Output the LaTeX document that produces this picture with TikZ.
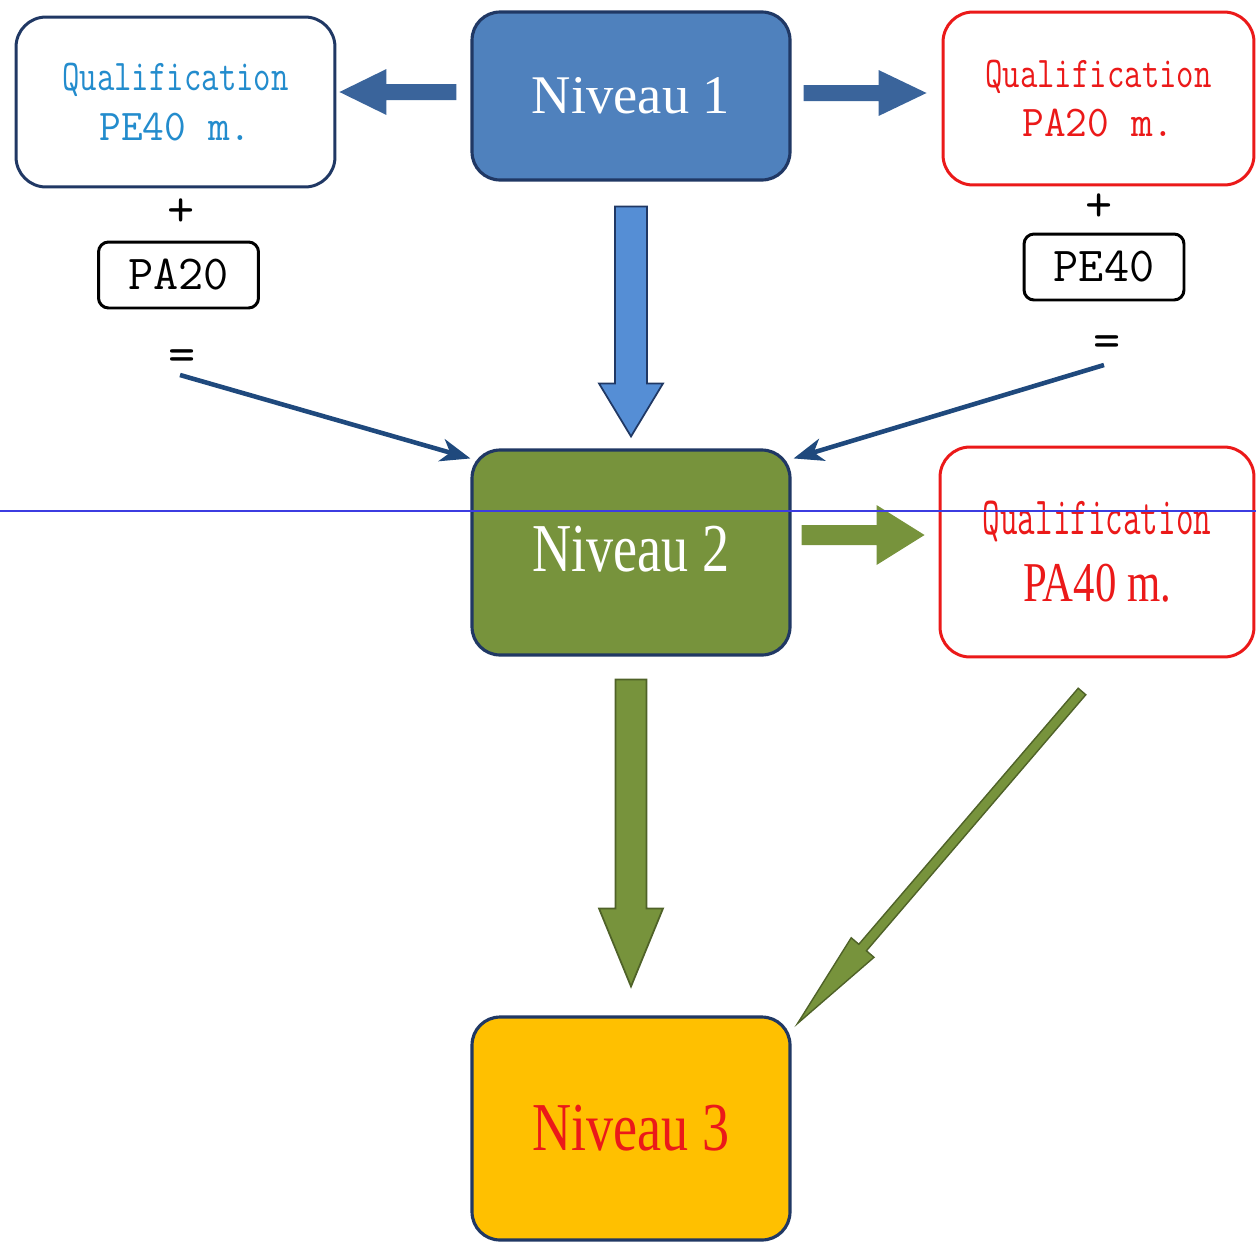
\documentclass[tikz,border=0pt]{standalone}
\usepackage{fontspec}
\setmainfont{Liberation Serif}
\usepackage{graphicx}
\usetikzlibrary{calc,arrows.meta}

\definecolor{navyline}{RGB}{32,56,100}
\definecolor{bluefill}{RGB}{79,129,189}
\definecolor{arrowblue}{RGB}{58,100,155}
\definecolor{downblue}{RGB}{85,142,213}
\definecolor{qualblue}{RGB}{35,140,205}
\definecolor{linkblue}{RGB}{31,73,125}
\definecolor{greenfill}{RGB}{119,147,60}
\definecolor{greenline}{RGB}{79,98,40}
\definecolor{yellowfill}{RGB}{255,192,0}
\definecolor{qualred}{RGB}{235,25,25}
\definecolor{ruleblue}{RGB}{60,60,225}

% block arrow: style, from, to, shaft half width, head half width, head length
\newcommand\blockarrow[6]{%
  \path (#2) coordinate (ba-s) (#3) coordinate (ba-t);
  \path ($(ba-t)!#6!(ba-s)$) coordinate (ba-h);
  \path[#1] ($(ba-s)!#4!90:(ba-t)$) -- ($(ba-h)!#4!-90:(ba-s)$) -- ($(ba-h)!#5!-90:(ba-s)$)
    -- (ba-t) -- ($(ba-h)!#5!90:(ba-s)$) -- ($(ba-h)!#4!90:(ba-s)$) -- ($(ba-s)!#4!-90:(ba-t)$) -- cycle;
}

\tikzset{
  niveau/.style={draw=navyline, line width=1.8pt, rounded corners=0.56cm, minimum width=6.36cm, inner sep=0pt},
  qualif/.style={draw=#1, text=#1, line width=1.7pt, rounded corners=0.6cm, fill=white, inner sep=0pt, align=center},
  matbox/.style={draw=black, line width=1.7pt, rounded corners=0.2cm, minimum width=3.2cm, minimum height=1.32cm,
    inner sep=0pt, font=\ttfamily\fontsize{27.8}{32}\selectfont},
  sign/.style={inner sep=0pt, font=\ttfamily\fontsize{30}{34}\selectfont},
  linkarrow/.style={draw=linkblue, line width=2.6pt, -{Stealth[length=17pt,width=13pt,inset=5pt]}},
}

\begin{document}
\begin{tikzpicture}[x=0.02cm,y=-0.02cm]
\useasboundingbox (0,0) rectangle (1256,1241);

\node[niveau, fill=bluefill, minimum height=3.36cm, text=white, font=\fontsize{31}{36}\selectfont] (n1) at (631,96) {Niveau 1};
\node[qualif=navyline, text=qualblue, minimum width=6.38cm, minimum height=3.4cm, font=\ttfamily\fontsize{25}{28}\selectfont] (q1) at (175.5,102)
  {\scalebox{0.77}[1]{Qualification}\\\scalebox{0.96}[1]{PE40 m.}};
\node[qualif=qualred, minimum width=6.22cm, minimum height=3.46cm, font=\ttfamily\fontsize{25}{28}\selectfont] (q2) at (1098.5,98.5)
  {\scalebox{0.77}[1]{Qualification}\\\scalebox{0.96}[1]{PA20 m.}};

\node[sign] (plus1) at (181,213) {+};
\node[matbox] (pa) at (178.5,275) {PA20};
\node[sign] (eq1) at (182,361) {=};
\node[sign] (plus2) at (1099,208) {+};
\node[matbox] (pe) at (1104,267) {PE40};
\node[sign] (eq2) at (1107,347) {=};

\node[niveau, fill=greenfill, minimum height=4.1cm, text=white, font=\fontsize{39}{44}\selectfont] (n2) at (631,552.5) {\raisebox{0.14cm}{\scalebox{0.79}[1]{Niveau 2}}};
\node[qualif=qualred, minimum width=6.28cm, minimum height=4.2cm, font=\fontsize{30.6}{38}\selectfont] (q3) at (1097,552)
  {{\ttfamily\scalebox{0.635}[1]{Qualification}}\\{\fontsize{32}{38}\selectfont\scalebox{0.76}[1]{PA40 m.}}};
\node[niveau, fill=yellowfill, minimum height=4.46cm, text=qualred, font=\fontsize{39}{44}\selectfont] (n3) at (631,1128.5) {\scalebox{0.79}[1]{Niveau 3}};

\blockarrow{fill=arrowblue}{$(n1.west)+(-14,-4)$}{$(q1.east)+(3,-10)$}{0.16cm}{0.46cm}{0.94cm}
\blockarrow{fill=arrowblue}{$(n1.east)+(12,-3)$}{$(q2.west)+(-15,-5.5)$}{0.16cm}{0.46cm}{0.96cm}
\blockarrow{fill=downblue, draw=navyline, line width=1pt}{$(n1.south)+(0,25)$}{$(n2.north)+(0,-12)$}{0.32cm}{0.64cm}{1.06cm}
\draw[linkarrow] ($(eq1.center)+(-2,14)$) -- ($(n2.north west)+(0,10)$);
\draw[linkarrow] ($(eq2.center)+(-3,18)$) -- ($(n2.north east)+(2,10)$);

\blockarrow{fill=greenfill}{$(n2.east)+(10,-17.5)$}{$(q3.west)+(-14,-17)$}{0.2cm}{0.6cm}{0.96cm}
\blockarrow{fill=greenfill, draw=greenline, line width=1pt}{$(n2.south)+(0,23)$}{$(n3.north)+(0,-29)$}{0.31cm}{0.64cm}{1.56cm}
\blockarrow{fill=greenfill, draw=greenline, line width=0.8pt}{$(q3.south)+(-15,33)$}{$(n3.north east)+(6,8)$}{0.1cm}{0.3cm}{2cm}

\draw[ruleblue, line width=0.6pt] (0,511) -- (1256,511);
\end{tikzpicture}
\end{document}
